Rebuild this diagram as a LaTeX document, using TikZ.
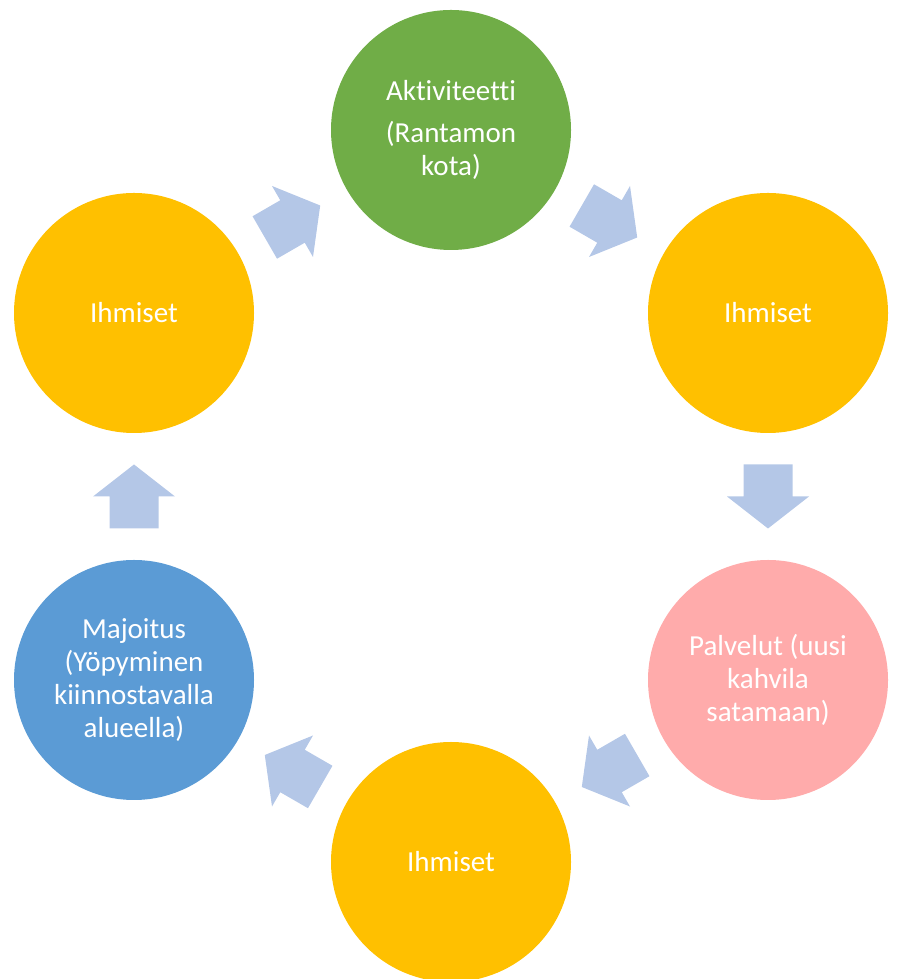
\documentclass[tikz,border=0pt]{standalone}
\usepackage{fontspec}
\setmainfont{Carlito}[Ligatures=NoCommon]
\usetikzlibrary{positioning}
\usetikzlibrary{calc}
\definecolor{activityColor}{HTML}{70AD47}
\definecolor{peopleColor}{HTML}{FFC000}
\definecolor{serviceColor}{HTML}{FFABAB}
\definecolor{stayColor}{HTML}{5B9BD5}
\definecolor{arrowColor}{HTML}{B4C7E7}

\begin{document}
\begin{tikzpicture}[x=1pt,y=1pt]

          \tikzstyle{circleNode} = [circle, minimum size=240pt, inner sep=0pt, text=white, align=center, font=\fontsize{29}{33}\selectfont];
          \tikzstyle{activityNode} = [circleNode, fill=activityColor];
          \tikzstyle{peopleNode} = [circleNode, fill=peopleColor];
          \tikzstyle{serviceNode} = [circleNode, fill=serviceColor];
          \tikzstyle{stayNode} = [circleNode, fill=stayColor];

          \tikzstyle{blockArrow} = [fill=arrowColor];

          \useasboundingbox (0,0) rectangle (898,979);

          \node[activityNode] (activity) at (451,849) {Aktiviteetti\\[9pt](Rantamon\\kota)};
          \node[peopleNode] (peopleRight) at (768,666) {Ihmiset};
          \node[serviceNode] (service) at (768,299) {Palvelut (uusi\\kahvila\\satamaan)};
          \node[peopleNode] (peopleBottom) at (451,117) {Ihmiset};
          \node[stayNode] (stay) at (134,299) {Majoitus\\(Yöpyminen\\kiinnostavalla\\alueella)};
          \node[peopleNode] (peopleLeft) at (134,666) {Ihmiset};

          \foreach \from/\to/\dir in {activity/peopleRight/-30, peopleRight/service/-90,
                                      service/peopleBottom/-150, peopleBottom/stay/150,
                                      stay/peopleLeft/90, peopleLeft/activity/30}
            \fill[blockArrow, shift={($(\from)!0.5!(\to)$)}, rotate=\dir]
              (-32,-24.5) -- (0,-24.5) -- (0,-41) -- (32,0) -- (0,41) -- (0,24.5) -- (-32,24.5) -- cycle;
        \end{tikzpicture}
\end{document}
